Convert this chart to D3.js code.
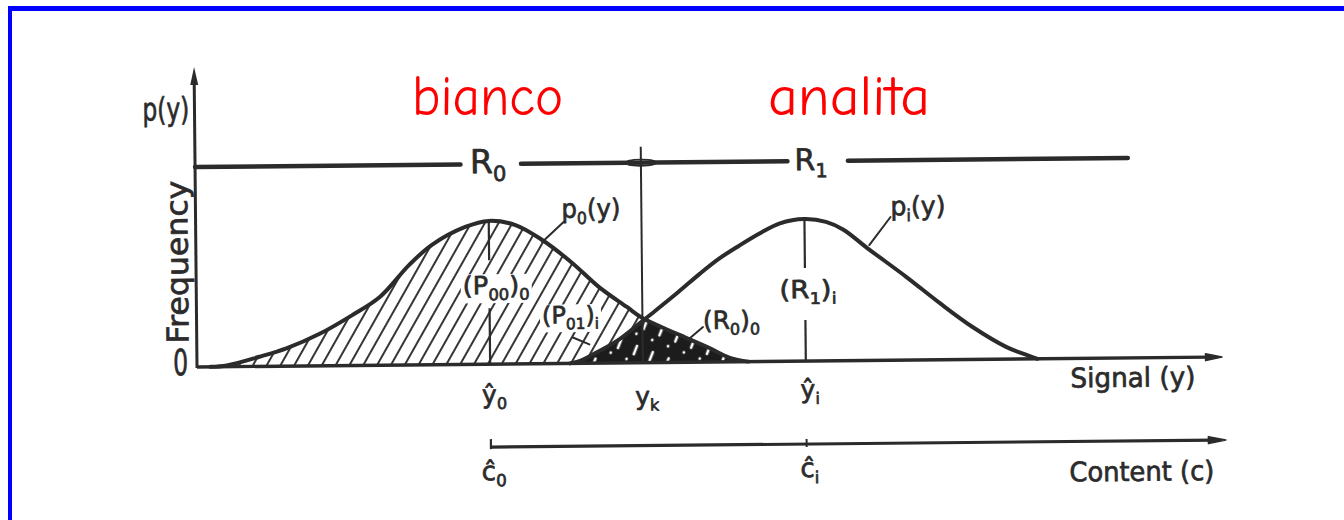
<!DOCTYPE html>
<html>
<head>
<meta charset="utf-8">
<script src="https://cdn.jsdelivr.net/npm/d3@7"></script>
<style>
  html, body { margin: 0; padding: 0; background: #fff; }
  svg { display: block; }
</style>
</head>
<body>
<svg id="chart" width="1344" height="520"></svg>
<script>
// Signal runs 0–100 along the axis; frequency is scaled so that 100 is the
// height of the R0 / R1 decision bar.
const blankSignal  = [1.3, 2.9, 6.1, 8.8, 12.0, 15.2, 17.9, 20.8, 23.0, 26.3, 28.6, 31.2, 33.8, 36.7, 39.3, 42.0, 43.5, 47.1, 49.8, 52.0, 53.8];
const blankFreq    = [0.0, 0.6, 4.8, 9.0, 16.0, 25.2, 34.1, 50.0, 59.8, 68.7, 71.6, 69.4, 61.8, 50.2, 38.0, 27.9, 22.3, 13.7, 7.5, 2.0, 0.0];

const analyteSignal = [36.4, 37.5, 38.5, 41.0, 43.5, 44.5, 47.0, 49.1, 51.0, 53.0, 55.0, 57.0, 59.4, 61.5, 63.2, 65.5, 69.3, 72.5, 75.7, 79.0, 81.0, 82.0];
const analyteFreq   = [0.0, 1.5, 4.0, 11.0, 20.8, 24.8, 35.0, 44.0, 51.5, 58.0, 64.0, 69.0, 71.0, 69.5, 65.5, 56.2, 41.5, 28.4, 16.2, 6.0, 1.9, 0.0];

// Characteristic signals: blank mean, decision limit, analyte mean
const signalMarkNames  = [["ŷ", "0"], ["y", "k"], ["ŷ", "i"]];
const signalMarkValues = [28.6, 43.5, 59.4];

// Content axis marks (blank and analyte content)
const contentMarkNames  = [["ĉ", "0"], ["ĉ", "i"]];
const contentMarkValues = [28.6, 59.4];

// Decision regions on the bar above the curves
const regionNames  = [["R", "0"], ["R", "1"]];
const regionCentres = [28.6, 60.1];
const regionBarSegments = [[0, 25.9], [31.8, 57.8], [63.7, 91.0]];

const titles = ["bianco", "analita"];
const ink = "#2b2b2b";
const font = "'DejaVu Sans', sans-serif";

const svg = d3.select("#chart");
const defs = svg.append("defs");

// frame
svg.append("rect").attr("x", 8).attr("y", 6).attr("width", 1336).attr("height", 5).attr("fill", "#0000ff");
svg.append("rect").attr("x", 8).attr("y", 6).attr("width", 4).attr("height", 514).attr("fill", "#0000ff");

const sx = d3.scaleLinear().domain([0, 100]).range([197, 1222]);
const fy = d3.scaleLinear().domain([0, 100]).range([367, 167]);

// diagonal hatching for the blank distribution
const hatch = defs.append("pattern").attr("id", "hatch")
  .attr("patternUnits", "userSpaceOnUse").attr("width", 12).attr("height", 12)
  .attr("patternTransform", "rotate(30)");
hatch.append("line").attr("x1", 6).attr("y1", -1).attr("x2", 6).attr("y2", 13)
  .attr("stroke", ink).attr("stroke-width", 1.9);

// dense texture for the overlapping part of the two distributions
const tex = defs.append("pattern").attr("id", "overlap")
  .attr("patternUnits", "userSpaceOnUse").attr("width", 17).attr("height", 27)
  .attr("patternTransform", "rotate(22)");
tex.append("rect").attr("width", 17).attr("height", 27).attr("fill", "#1c1c1c");
tex.append("line").attr("x1", 8).attr("y1", 5).attr("x2", 8).attr("y2", 14)
  .attr("stroke", "#fff").attr("stroke-width", 2.6).attr("stroke-linecap", "round");
tex.append("circle").attr("cx", 3).attr("cy", 21).attr("r", 1.4).attr("fill", "#fff");

const curve = d3.curveCatmullRom.alpha(0.5);
const line = d3.line().x(d => sx(d[0])).y(d => fy(d[1])).curve(curve);
const area = d3.area().x(d => sx(d[0])).y0(fy(0)).y1(d => fy(d[1])).curve(curve);

const blank = d3.zip(blankSignal, blankFreq);
const analyte = d3.zip(analyteSignal, analyteFreq);

defs.append("clipPath").attr("id", "blankClip").append("path").attr("d", area(blank));

// the drawing sits very slightly tilted
const g = svg.append("g").attr("transform", "rotate(-0.56,197,367)");

g.append("path").attr("d", area(blank)).attr("fill", "url(#hatch)");
g.append("path").attr("d", area(analyte)).attr("fill", "url(#overlap)").attr("clip-path", "url(#blankClip)");

g.append("path").attr("d", line(blank)).attr("fill", "none").attr("stroke", ink)
  .attr("stroke-width", 4).attr("stroke-linejoin", "round").attr("stroke-linecap", "round");
g.append("path").attr("d", line(analyte)).attr("fill", "none").attr("stroke", ink)
  .attr("stroke-width", 4).attr("stroke-linejoin", "round").attr("stroke-linecap", "round");

// text helper: parts are [string, isSubscript]
function label(parent, parts, x, y, size, opts = {}) {
  const t = parent.append("text").attr("x", x).attr("y", y)
    .attr("font-family", font).attr("font-size", size)
    .attr("fill", ink).attr("stroke", ink).attr("stroke-width", 0.7)
    .attr("stroke-linejoin", "round")
    .attr("text-anchor", opts.anchor || "start");
  if (opts.len) t.attr("textLength", opts.len).attr("lengthAdjust", "spacingAndGlyphs");
  if (opts.transform) t.attr("transform", opts.transform);
  let shift = 0;
  parts.forEach(([s, sub]) => {
    const ts = t.append("tspan").text(s);
    const target = sub ? size * 0.24 : 0;
    if (target !== shift) { ts.attr("dy", target - shift); shift = target; }
    if (sub) ts.attr("font-size", size * 0.64);
  });
  if (opts.knockout) {
    // clear the hatching just around the lettering
    const b = t.node().getBBox();
    parent.insert("rect", () => t.node())
      .attr("x", b.x - 2).attr("y", b.y + 3).attr("width", b.width + 4).attr("height", b.height - 4)
      .attr("fill", "#fff");
  }
  return t;
}

// frequency axis with arrow
const yTop = fy(150);
g.append("line").attr("x1", sx(0)).attr("x2", sx(0)).attr("y1", fy(0) + 1).attr("y2", yTop + 14)
  .attr("stroke", ink).attr("stroke-width", 3);
g.append("path").attr("d", `M${sx(0) - 4},${yTop + 18} L${sx(0)},${yTop} L${sx(0) + 4},${yTop + 18} Z`).attr("fill", ink);

// signal axis with arrow
g.append("line").attr("x1", sx(0)).attr("x2", sx(98.8)).attr("y1", fy(0)).attr("y2", fy(0))
  .attr("stroke", ink).attr("stroke-width", 3.4);
g.append("path").attr("d", `M${sx(98.4)},${fy(0) - 3.5} L${sx(100)},${fy(0)} L${sx(98.4)},${fy(0) + 3.5} Z`)
  .attr("fill", ink).attr("stroke", ink).attr("stroke-width", 1.5).attr("stroke-linejoin", "round");

// decision bar R0 | R1
regionBarSegments.forEach(([a, b]) => {
  g.append("line").attr("x1", sx(a)).attr("x2", sx(b)).attr("y1", fy(100)).attr("y2", fy(100))
    .attr("stroke", ink).attr("stroke-width", 4.5).attr("stroke-linecap", "round");
});
regionNames.forEach((n, i) => {
  label(g, [[n[0]], [n[1], true]], sx(regionCentres[i]), fy(95.5), i === 0 ? 33 : 30, { anchor: "middle" });
});

// decision limit y_k
const yk = signalMarkValues[1];
g.append("line").attr("x1", sx(yk)).attr("x2", sx(yk)).attr("y1", fy(108)).attr("y2", fy(0))
  .attr("stroke", ink).attr("stroke-width", 2);
g.append("ellipse").attr("cx", sx(yk)).attr("cy", fy(100)).attr("rx", 15).attr("ry", 3.2)
  .attr("fill", "none").attr("stroke", ink).attr("stroke-width", 1.6);

// mean markers, broken around their area labels
const meanGaps = [[[71.6, 52], [28, 0]], [[71.0, 46.5], [20.5, 0]]];
[signalMarkValues[0], signalMarkValues[2]].forEach((v, i) => {
  meanGaps[i].forEach(([a, b]) => {
    g.append("line").attr("x1", sx(v)).attr("x2", sx(v)).attr("y1", fy(a)).attr("y2", fy(b))
      .attr("stroke", ink).attr("stroke-width", 2.2);
  });
});

// leader lines
const leaders = [
  [[33.8, 60.8], [35.9, 70.7]],
  [[65.7, 57.7], [67.8, 71.6]],
  [[47.9, 11.1], [49.4, 17.5]],
  [[36.7, 12.9], [38.3, 9.4]]
];
leaders.forEach(([a, b]) => {
  g.append("line").attr("x1", sx(a[0])).attr("y1", fy(a[1])).attr("x2", sx(b[0])).attr("y2", fy(b[1]))
    .attr("stroke", ink).attr("stroke-width", 2).attr("stroke-linecap", "round");
});

// curve and area labels
label(g, [["p"], ["0", true], ["(y)"]], sx(35.7), fy(72.8), 26, { len: 59 });
label(g, [["p"], ["i", true], ["(y)"]], sx(67.8), fy(72.5), 26, { len: 55 });
label(g, [["(P"], ["00", true], [")"], ["0", true]], sx(26.0), fy(35), 25, { len: 67, knockout: true });
label(g, [["(P"], ["01", true], [")"], ["i", true]], sx(33.7), fy(20), 24, { knockout: true });
label(g, [["(R"], ["0", true], [")"], ["0", true]], sx(49.4), fy(16.5), 25, { len: 57 });
label(g, [["(R"], ["1", true], [")"], ["i", true]], sx(56.9), fy(31.5), 25, { len: 57 });

// axis titles
label(g, [["p(y)"]], sx(-0.5), fy(123.5), 32, { anchor: "end", len: 47 });
label(g, [["Frequency"]], 0, 0, 30, { anchor: "middle", len: 163,
  transform: `translate(${sx(-0.8)},${fy(52.5)}) rotate(-90)` });
label(g, [["0"]], sx(-1.6), fy(-4), 36, { anchor: "middle", len: 15 });
label(g, [["Signal (y)"]], sx(85.2), fy(-14.5), 27, { len: 125 });

// signal marks
const markLabelLevel = [-19.5, -21, -18.5];
signalMarkNames.forEach((n, i) => {
  label(g, [[n[0]], [n[1], true]], sx(signalMarkValues[i]) + 4, fy(markLabelLevel[i]), 25,
    { anchor: "middle" });
});

// content axis
const cLevel = -41.5;
g.append("line").attr("x1", sx(contentMarkValues[0])).attr("x2", sx(99.2)).attr("y1", fy(cLevel)).attr("y2", fy(cLevel))
  .attr("stroke", ink).attr("stroke-width", 3.2);
g.append("path").attr("d", `M${sx(98.6)},${fy(cLevel) - 3.5} L${sx(100.3)},${fy(cLevel)} L${sx(98.6)},${fy(cLevel) + 3.5} Z`)
  .attr("fill", ink).attr("stroke", ink).attr("stroke-width", 1.5).attr("stroke-linejoin", "round");
g.append("line").attr("x1", sx(contentMarkValues[0])).attr("x2", sx(contentMarkValues[0]))
  .attr("y1", fy(cLevel) - 8).attr("y2", fy(cLevel) + 2).attr("stroke", ink).attr("stroke-width", 2.2);
g.append("line").attr("x1", sx(contentMarkValues[1])).attr("x2", sx(contentMarkValues[1]))
  .attr("y1", fy(cLevel) - 5).attr("y2", fy(cLevel) + 3).attr("stroke", ink).attr("stroke-width", 2);
contentMarkNames.forEach((n, i) => {
  label(g, [[n[0]], [n[1], true]], sx(contentMarkValues[i]) + 3, fy(-58), 26, { anchor: "middle" });
});
label(g, [["Content (c)"]], sx(85.0), fy(-61.5), 27, { len: 145 });

// distribution titles
const titleFont = "'Comic Sans MS', 'Comic Neue', 'DejaVu Sans', sans-serif";
const titleX = [412, 768];
const titleW = [151, 162];
titles.forEach((t, i) => {
  svg.append("text").attr("x", titleX[i]).attr("y", 115).text(t)
    .attr("font-family", titleFont).attr("font-size", 56).attr("fill", "#ff0000")
    .attr("textLength", titleW[i]).attr("lengthAdjust", "spacingAndGlyphs");
});
</script>
</body>
</html>
